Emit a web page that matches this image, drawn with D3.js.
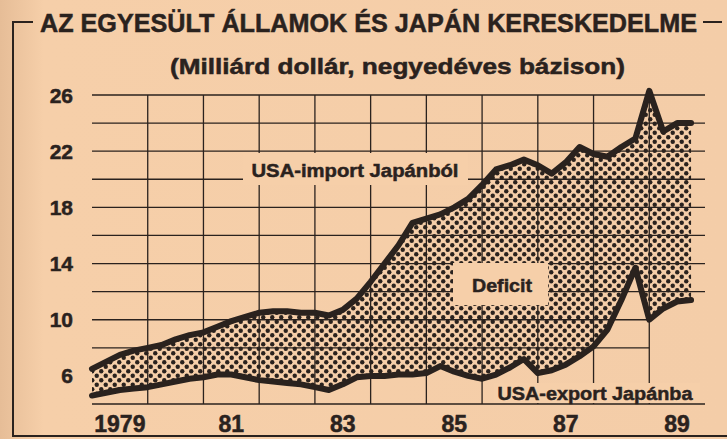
<!DOCTYPE html>
<html>
  <head>
    <meta charset="utf-8">
    <title>USA - Japan</title>
    <script src="https://cdn.jsdelivr.net/npm/d3@7"></script>
    <style>
      body { margin: 0; background: #f6cfa9; }
      text { font-family: "Liberation Sans", Arial, sans-serif; font-weight: bold; fill: #2a221e; stroke: #2a221e; stroke-width: 0.5px; }
    </style>
  </head>
  <body>
    <svg width="727" height="439" id="mainsvg"></svg>
    <script>
    // negyedéves adatok, 1979 I. - 1989 IV. (milliárd dollár)
    const importJapan = [6.5, 7.0, 7.5, 7.8, 8.0, 8.2, 8.6, 8.9, 9.1, 9.5, 9.9, 10.2,
      10.5, 10.6, 10.6, 10.5, 10.5, 10.3, 10.7, 11.5, 12.7, 14.0, 15.3, 16.9,
      17.2, 17.5, 18.0, 18.6, 19.6, 20.7, 21.0, 21.4, 21.0, 20.4, 21.2, 22.3,
      21.8, 21.6, 22.3, 22.9, 26.3, 23.4, 24.0, 24.0];
    const exportJapan = [4.6, 4.8, 5.0, 5.1, 5.2, 5.4, 5.6, 5.8, 5.9, 6.1, 6.1, 5.9,
      5.7, 5.6, 5.5, 5.4, 5.2, 5.0, 5.4, 5.9, 6.0, 6.0, 6.1, 6.1,
      6.2, 6.7, 6.3, 6.0, 5.8, 6.1, 6.6, 7.2, 6.2, 6.4, 6.8, 7.4,
      8.1, 9.3, 11.4, 13.7, 10.0, 10.8, 11.3, 11.4];
    const yTicks = [26, 22, 18, 14, 10, 6];
    const yGrid = [26, 24, 22, 20, 18, 16, 14, 12, 10, 8, 4];
    const xLabels = ['1979', '81', '83', '85', '87', '89'];
    const xLabelYears = [1979, 1981, 1983, 1985, 1987, 1989];
    const gridYears = [1980, 1981, 1982, 1983, 1984, 1985, 1986, 1987, 1988, 1989];

    const ink = '#2a221e';
    const paper = '#f6cfa9';
    let svg = d3.select('#mainsvg');

    let x = d3.scaleLinear().domain([1979, 1990]).range([92, 705]);
    let y = d3.scaleLinear().domain([4, 26]).range([404, 95]);
    let t = i => 1979 + i / 4;

    // papír + bal oldali árnyék
    let defs = svg.append('defs');
    let grad = defs.append('linearGradient').attr('id', 'shade');
    grad.append('stop').attr('offset', '0').attr('stop-color', '#e6bd97');
    grad.append('stop').attr('offset', '0.06').attr('stop-color', paper);
    grad.append('stop').attr('offset', '1').attr('stop-color', '#f4cda8');
    svg.append('rect').attr('width', 727).attr('height', 439).attr('fill', 'url(#shade)');

    let pat = defs.append('pattern').attr('id', 'dots')
      .attr('patternUnits', 'userSpaceOnUse').attr('width', 9).attr('height', 9);
    pat.append('circle').attr('cx', 2.25).attr('cy', 2.25).attr('r', 2.2).attr('fill', ink);
    pat.append('circle').attr('cx', 6.75).attr('cy', 6.75).attr('r', 2.2).attr('fill', ink);

    // keret és cím
    svg.append('path').attr('d', 'M33,22H13V436H727M703,22H722')
      .attr('fill', 'none').attr('stroke', ink).attr('stroke-width', 2);
    svg.append('text').attr('x', 40).attr('y', 32)
      .attr('font-size', 25).attr('textLength', 657).attr('lengthAdjust', 'spacingAndGlyphs')
      .text('AZ EGYESÜLT ÁLLAMOK ÉS JAPÁN KERESKEDELME');
    svg.append('text').attr('x', 170).attr('y', 74)
      .attr('font-size', 22).attr('textLength', 455).attr('lengthAdjust', 'spacingAndGlyphs')
      .text('(Milliárd dollár, negyedéves bázison)');

    // rács
    let grid = svg.append('g').attr('stroke', ink).attr('stroke-width', 1.3);
    grid.selectAll('.h').data(yGrid).join('line')
      .attr('x1', x(1979)).attr('x2', d => d > 10 || d === 4 ? x(1990) : x(1989))
      .attr('y1', d => y(d)).attr('y2', d => y(d));
    grid.selectAll('.v').data(gridYears).join('line')
      .attr('x1', d => x(d)).attr('x2', d => x(d))
      .attr('y1', y(26)).attr('y2', y(4));

    // tengelyfeliratok
    svg.selectAll('.yt').data(yTicks).join('text')
      .attr('x', 73).attr('y', d => y(d)).attr('dy', '0.36em')
      .attr('text-anchor', 'end').attr('font-size', 21).attr('stroke-width', 0.8)
      .text(d => d);
    svg.selectAll('.xt').data(xLabels).join('text')
      .attr('x', (d, i) => x(xLabelYears[i] + 0.5)).attr('y', 432)
      .attr('text-anchor', 'middle').attr('font-size', 23).attr('stroke-width', 0.8)
      .text(d => d);

    // deficit terület
    let area = d3.area()
      .x((d, i) => x(t(i)))
      .y0((d, i) => y(exportJapan[i]))
      .y1(d => y(d));
    svg.append('path').datum(importJapan).attr('d', area).attr('fill', 'url(#dots)');

    // feliratok háttere
    let labels = [
      { text: 'USA-import Japánból', cx: 355, cy: 170, w: 207, box: [243, 153, 225, 32] },
      { text: 'Deficit', cx: 502, cy: 285, w: 60, box: [453, 263, 95, 42] },
      { text: 'USA-export Japánba', cx: 595, cy: 393, w: 195, box: [494, 383, 206, 20] }
    ];
    svg.selectAll('.lb').data(labels).join('rect')
      .attr('x', d => d.box[0]).attr('y', d => d.box[1])
      .attr('width', d => d.box[2]).attr('height', d => d.box[3])
      .attr('fill', paper);

    // vonalak
    let line = d3.line().x((d, i) => x(t(i))).y(d => y(d));
    svg.selectAll('.series').data([importJapan, exportJapan]).join('path')
      .attr('d', line).attr('fill', 'none').attr('stroke', ink)
      .attr('stroke-width', 6).attr('stroke-linejoin', 'round').attr('stroke-linecap', 'round');

    svg.selectAll('.lt').data(labels).join('text')
      .attr('x', d => d.cx).attr('y', d => d.cy).attr('dy', '0.36em')
      .attr('text-anchor', 'middle').attr('font-size', 19)
      .attr('textLength', d => d.w).attr('lengthAdjust', 'spacingAndGlyphs')
      .text(d => d.text);
    </script>
  </body>
</html>
